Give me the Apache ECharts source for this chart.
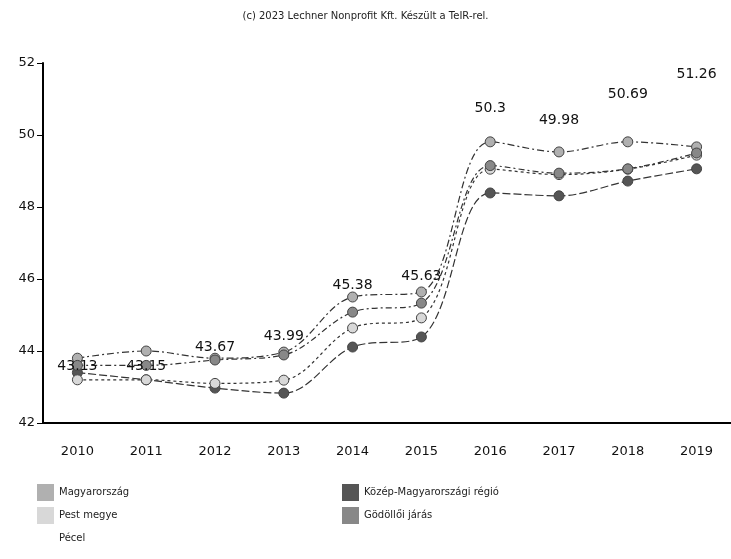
<!DOCTYPE html>
<html lang="hu">

<head>
    <meta charset="UTF-8">
    <title>Chart</title>
    <script src="https://cdn.jsdelivr.net/npm/echarts@6/dist/echarts.min.js"></script>
    <style>
        body { margin: 0; background: #fff; }
    </style>
</head>

<body>
    <div id="main" style="width: 731px; height: 559px;"></div>
    <script type="text/javascript">
        // adatok
        var years = ['2010', '2011', '2012', '2013', '2014', '2015', '2016', '2017', '2018', '2019'];
        var magyarorszag = [43.8, 44.0, 43.8, 43.97, 45.5, 45.64, 49.81, 49.53, 49.81, 49.67];
        var kozepMagyar = [43.4, 43.2, 42.97, 42.83, 44.11, 44.39, 48.39, 48.31, 48.72, 49.06];
        var pestMegye = [43.2, 43.2, 43.1, 43.19, 44.64, 44.92, 49.05, 48.9, 49.05, 49.44];
        var godolloi = [43.6, 43.6, 43.75, 43.89, 45.08, 45.33, 49.15, 48.94, 49.06, 49.5];
        var pecel = [43.13, 43.15, 43.67, 43.99, 45.38, 45.63, 50.3, 49.98, 50.69, 51.26];

        var myChart = echarts.init(document.getElementById('main'));

        function lineSeries(name, data, fill, dash) {
            return {
                name: name,
                type: 'line',
                smooth: 0.35,
                data: data,
                symbol: 'circle',
                symbolSize: 10,
                itemStyle: { color: fill, borderColor: '#444', borderWidth: 1 },
                lineStyle: { color: '#333', width: 1.2, type: dash },
                z: 3
            };
        }

        var legendText = { fontFamily: 'DejaVu Sans', fontSize: 10, color: '#222' };

        var option = {
            backgroundColor: '#fff',
            animation: false,
            title: {
                text: '(c) 2023 Lechner Nonprofit Kft. Készült a TeIR-rel.',
                left: 'center',
                top: 6,
                textStyle: { fontFamily: 'DejaVu Sans', fontSize: 10, fontWeight: 'normal', color: '#222' }
            },
            legend: [
                {
                    orient: 'vertical',
                    left: 32, top: 479,
                    itemWidth: 17, itemHeight: 17, itemGap: 6,
                    icon: 'rect',
                    itemStyle: { borderWidth: 0 },
                    textStyle: legendText,
                    data: ['Magyarország', 'Pest megye', 'Pécel']
                },
                {
                    orient: 'vertical',
                    left: 337, top: 479,
                    itemWidth: 17, itemHeight: 17, itemGap: 6,
                    icon: 'rect',
                    itemStyle: { borderWidth: 0 },
                    textStyle: legendText,
                    data: ['Közép-Magyarországi régió', 'Gödöllői járás']
                }
            ],
            grid: { left: 43, top: 63, width: 693, height: 360 },
            xAxis: {
                type: 'category',
                data: years,
                boundaryGap: true,
                axisLine: { lineStyle: { color: '#000', width: 2 } },
                axisTick: { alignWithLabel: true, length: 6, lineStyle: { color: '#000' } },
                axisLabel: { fontFamily: 'DejaVu Sans', fontSize: 13, color: '#111', margin: 22 }
            },
            yAxis: {
                type: 'value',
                min: 42, max: 52, interval: 2,
                splitLine: { show: false },
                axisLine: { show: true, lineStyle: { color: '#000', width: 2 } },
                axisTick: { show: true, length: 6, lineStyle: { color: '#000' } },
                axisLabel: { fontFamily: 'DejaVu Sans', fontSize: 13, color: '#111', margin: 8 }
            },
            series: [
                lineSeries('Magyarország', magyarorszag, '#b0b0b0', [7, 3, 2, 3]),
                lineSeries('Közép-Magyarországi régió', kozepMagyar, '#555555', [8, 3]),
                lineSeries('Pest megye', pestMegye, '#d8d8d8', [3, 3]),
                lineSeries('Gödöllői járás', godolloi, '#888888', [6, 3, 2, 3]),
                {
                    name: 'Pécel',
                    type: 'line',
                    smooth: 0.35,
                    data: pecel,
                    symbol: 'circle',
                    symbolSize: 1,
                    itemStyle: { color: 'transparent' },
                    lineStyle: { color: 'transparent', width: 0 },
                    label: {
                        show: true,
                        position: 'top',
                        distance: 8,
                        fontFamily: 'DejaVu Sans',
                        fontSize: 14,
                        color: '#111'
                    },
                    z: 5
                }
            ]
        };
        myChart.setOption(option);
    </script>
</body>

</html>
